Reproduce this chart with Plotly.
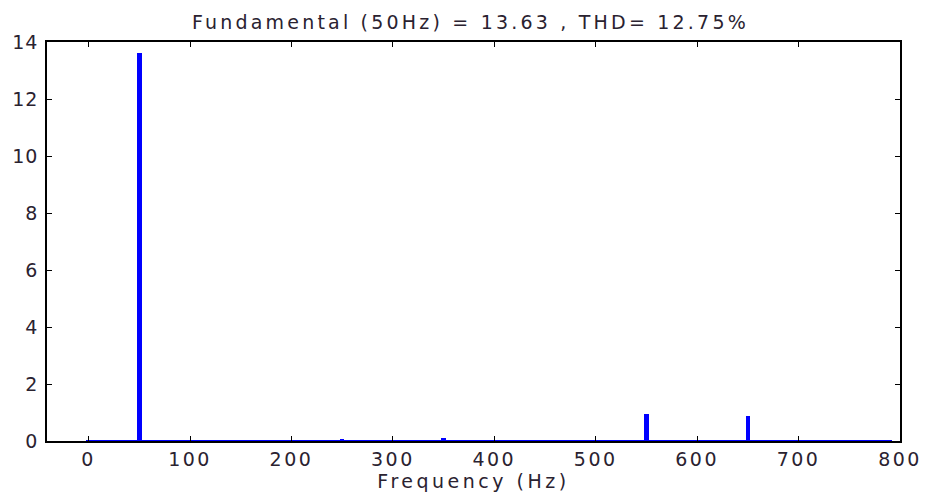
import plotly.graph_objects as go

# Harmonic spectrum (Hz, magnitude)
freqs = [0, 50, 100, 150, 200, 250, 300, 350, 400, 450, 500, 550, 600, 650, 700, 750, 790]
mags = [0.02, 13.63, 0.02, 0.02, 0.02, 0.07, 0.02, 0.10, 0.02, 0.02, 0.02, 0.95, 0.02, 0.88, 0.02, 0.02, 0.02]

x_ticks = [0, 100, 200, 300, 400, 500, 600, 700, 800]
y_ticks = [0, 2, 4, 6, 8, 10, 12, 14]
title_text = "Fundamental (50Hz) = 13.63 , THD= 12.75%"
x_title = "Frequency (Hz)"


def spaced(s, px):
    return f"<span style='letter-spacing:{px}px'>{s}</span>"


blue = "#0000ff"
fig = go.Figure()
fig.add_trace(go.Scatter(x=[freqs[0], freqs[-1]], y=[0, 0], mode="lines",
                         line=dict(color=blue, width=2), hoverinfo="skip", showlegend=False))
fig.add_trace(go.Bar(x=freqs, y=mags, width=4.5, marker=dict(color=blue, line=dict(width=0)),
                     showlegend=False, hoverinfo="x+y"))

font = dict(family="DejaVu Sans, sans-serif", size=19, color="#2a2230")
fig.update_layout(
    width=926, height=497,
    margin=dict(l=47, r=26, t=42, b=56, autoexpand=False),
    paper_bgcolor="white", plot_bgcolor="white",
    font=font,
    title=dict(text=spaced(title_text, 3.2), x=0.508, xanchor="center", y=0.956, yanchor="middle",
               font=dict(size=19)),
    bargap=0,
)
fig.update_xaxes(range=[-41, 800], tickvals=x_ticks, ticktext=[spaced(v, 2.5) for v in x_ticks],
                 ticks="inside", ticklen=5, tickcolor="black",
                 showline=True, linecolor="black", linewidth=1.5, mirror="ticks",
                 showgrid=False, zeroline=False, automargin=False,
                 title=dict(text=spaced(x_title, 3.5), standoff=0, font=dict(size=19)))
fig.update_yaxes(range=[0, 14], tickvals=y_ticks, ticktext=[spaced(v, 1) for v in y_ticks],
                 ticks="inside", ticklen=5, tickcolor="black", ticklabelstandoff=3,
                 showline=True, linecolor="black", linewidth=1.5, mirror="ticks",
                 showgrid=False, zeroline=False, automargin=False)
fig.write_html("out.html", config={"displayModeBar": False},
               post_script="document.body.style.margin='0';document.body.style.overflow='hidden';")
